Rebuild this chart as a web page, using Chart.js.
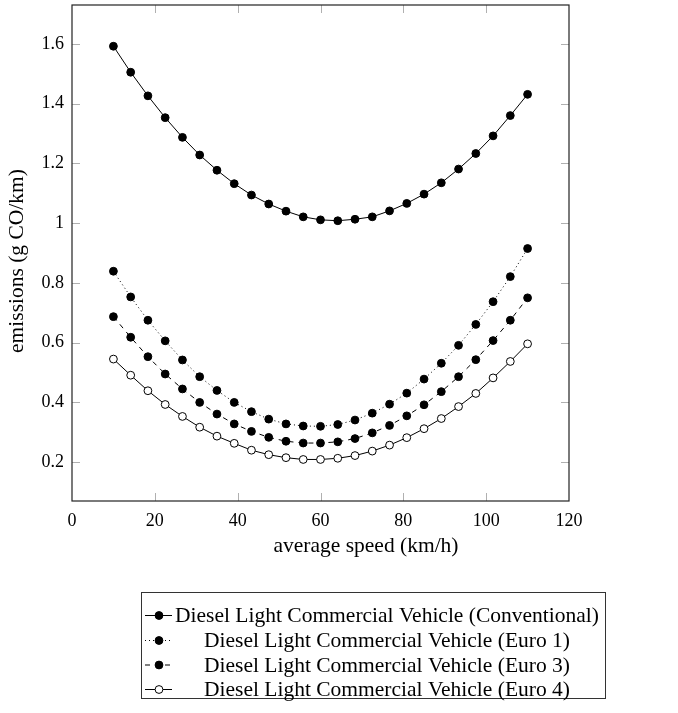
<!DOCTYPE html>
<html><head><meta charset="utf-8">
<script src="https://cdn.jsdelivr.net/npm/chart.js@4.4.1/dist/chart.umd.min.js"></script>
<style>html,body{margin:0;padding:0;background:#fff;}#wrap{width:678px;height:713px;}</style>
</head><body><div id="wrap"><canvas id="c" width="678" height="713"></canvas></div>
<script>
const speeds = [10, 14.17, 18.33, 22.5, 26.67, 30.83, 35, 39.17, 43.33, 47.5, 51.67, 55.83, 60,
  64.17, 68.33, 72.5, 76.67, 80.83, 85, 89.17, 93.33, 97.5, 101.67, 105.83, 110];
const conventional = [1.592, 1.505, 1.426, 1.353, 1.287, 1.228, 1.177, 1.132, 1.094, 1.064, 1.040, 1.021, 1.011,
  1.008, 1.013, 1.021, 1.041, 1.066, 1.097, 1.135, 1.181, 1.233, 1.292, 1.360, 1.431];
const euro1 = [0.839, 0.753, 0.675, 0.606, 0.542, 0.486, 0.440, 0.400, 0.369, 0.344, 0.328, 0.321, 0.320,
  0.326, 0.341, 0.364, 0.394, 0.431, 0.478, 0.531, 0.591, 0.661, 0.737, 0.821, 0.915];
const euro3 = [0.687, 0.618, 0.553, 0.495, 0.445, 0.400, 0.361, 0.328, 0.303, 0.283, 0.270, 0.264, 0.264,
  0.268, 0.279, 0.298, 0.323, 0.355, 0.392, 0.436, 0.486, 0.543, 0.607, 0.675, 0.750];
const euro4 = [0.545, 0.491, 0.439, 0.393, 0.353, 0.317, 0.287, 0.263, 0.240, 0.225, 0.215, 0.209, 0.209,
  0.213, 0.222, 0.237, 0.257, 0.282, 0.312, 0.346, 0.386, 0.430, 0.482, 0.537, 0.596];
const seriesNames = [
  'Diesel Light Commercial Vehicle (Conventional)',
  'Diesel Light Commercial Vehicle (Euro 1)',
  'Diesel Light Commercial Vehicle (Euro 3)',
  'Diesel Light Commercial Vehicle (Euro 4)'
];
const xTicks = [0, 20, 40, 60, 80, 100, 120];
const yTicks = [0.2, 0.4, 0.6, 0.8, 1, 1.2, 1.4, 1.6];
const xTitle = 'average speed (km/h)';
const yTitle = 'emissions (g CO/km)';

const SERIF = '"Liberation Serif", "Times New Roman", serif';
const toPts = ys => speeds.map((x, i) => ({x: x, y: ys[i]}));
const base = {borderColor: '#000', borderWidth: 1, pointRadius: 3.9, pointHoverRadius: 3.9,
  pointBorderColor: '#000', pointBorderWidth: 1, tension: 0, fill: false};
const datasets = [
  Object.assign({}, base, {label: seriesNames[0], data: toPts(conventional), pointBackgroundColor: '#000', borderDash: []}),
  Object.assign({}, base, {label: seriesNames[1], data: toPts(euro1), pointBackgroundColor: '#000', borderDash: [1, 3]}),
  Object.assign({}, base, {label: seriesNames[2], data: toPts(euro3), pointBackgroundColor: '#000', borderDash: [5, 5]}),
  Object.assign({}, base, {label: seriesNames[3], data: toPts(euro4), pointBackgroundColor: '#fff', borderDash: []})
];

const PLOT = {left: 72, right: 569, top: 5, bottom: 501};
const LEG = {left: 141, right: 605, top: 592, bottom: 698};
const LEG_ROWS = [615, 640, 664.5, 689];
const LEG_TEXT_CENTER = 387;

function drawMarker(ctx, x, y, ds) {
  ctx.beginPath();
  ctx.setLineDash([]);
  ctx.arc(x, y, ds.pointRadius, 0, Math.PI * 2);
  ctx.fillStyle = ds.pointBackgroundColor;
  ctx.fill();
  ctx.lineWidth = 1; ctx.strokeStyle = '#000';
  ctx.stroke();
}

const decor = {
  id: 'decor',
  afterDraw(chart) {
    const ctx = chart.ctx, a = chart.chartArea;
    const xs = chart.scales.x, ys = chart.scales.y;
    ctx.save();
    ctx.strokeStyle = '#b0b0b0'; ctx.lineWidth = 1; ctx.setLineDash([]);
    ctx.beginPath();
    xTicks.forEach(v => {
      const p = Math.round(xs.getPixelForValue(v)) + 0.5;
      if (p > a.left + 2 && p < a.right - 2) {
        ctx.moveTo(p, a.bottom); ctx.lineTo(p, a.bottom - 8);
        ctx.moveTo(p, a.top); ctx.lineTo(p, a.top + 8);
      }
    });
    yTicks.forEach(v => {
      const p = Math.round(ys.getPixelForValue(v)) + 0.5;
      ctx.moveTo(a.left, p); ctx.lineTo(a.left + 8, p);
      ctx.moveTo(a.right, p); ctx.lineTo(a.right - 8, p);
    });
    ctx.stroke();
    ctx.strokeStyle = '#222'; ctx.lineWidth = 1.2;
    ctx.strokeRect(a.left, a.top, a.right - a.left, a.bottom - a.top);

    ctx.fillStyle = '#000';
    ctx.font = '21.5px ' + SERIF;
    ctx.textAlign = 'center'; ctx.textBaseline = 'middle';
    ctx.fillText(xTitle, 366, 546);
    ctx.save();
    ctx.translate(17, 261);
    ctx.rotate(-Math.PI / 2);
    ctx.fillText(yTitle, 0, 0);
    ctx.restore();

    ctx.strokeStyle = '#333'; ctx.lineWidth = 1;
    ctx.strokeRect(LEG.left + 0.5, LEG.top + 0.5, LEG.right - LEG.left, LEG.bottom - LEG.top);
    ctx.font = '21.5px ' + SERIF;
    chart.data.datasets.forEach((ds, i) => {
      const cy = LEG_ROWS[i] + 0.5;
      const x0 = LEG.left + 4, x1 = LEG.left + 31, xm = LEG.left + 18;
      ctx.beginPath();
      ctx.setLineDash(ds.borderDash);
      ctx.strokeStyle = '#000'; ctx.lineWidth = 1;
      ctx.moveTo(x0, cy); ctx.lineTo(x1, cy);
      ctx.stroke();
      drawMarker(ctx, xm, cy, ds);
      ctx.fillStyle = '#000';
      ctx.textAlign = 'center'; ctx.textBaseline = 'middle';
      ctx.fillText(ds.label, LEG_TEXT_CENTER, cy + 1);
    });
    ctx.restore();
  }
};

const zeroPad = s => { s.paddingTop = 0; s.paddingBottom = 0; s.paddingLeft = 0; s.paddingRight = 0; };

new Chart(document.getElementById('c'), {
  type: 'line',
  data: {datasets: datasets},
  options: {
    responsive: false, animation: false, devicePixelRatio: 1,
    layout: {padding: {left: 0, top: PLOT.top, right: 678 - PLOT.right, bottom: 713 - PLOT.bottom - 40}},
    plugins: {legend: {display: false}, tooltip: {enabled: false}},
    scales: {
      x: {
        type: 'linear', min: 0, max: 120,
        afterBuildTicks: s => { s.ticks = xTicks.map(v => ({value: v})); },
        afterFit: s => { s.height = 40; zeroPad(s); },
        grid: {display: false, drawTicks: false}, border: {display: false},
        ticks: {color: '#000', font: {family: SERIF, size: 18}, padding: 9, maxRotation: 0, autoSkip: false,
          callback: v => String(v)}
      },
      y: {
        type: 'linear', min: 0.07, max: 1.73,
        afterBuildTicks: s => { s.ticks = yTicks.map(v => ({value: v})); },
        afterFit: s => { s.width = PLOT.left; zeroPad(s); },
        grid: {display: false, drawTicks: false}, border: {display: false},
        ticks: {color: '#000', font: {family: SERIF, size: 18}, padding: 8, autoSkip: false,
          callback: v => String(Math.round(v * 10) / 10)}
      }
    }
  },
  plugins: [decor]
});
</script></body></html>
